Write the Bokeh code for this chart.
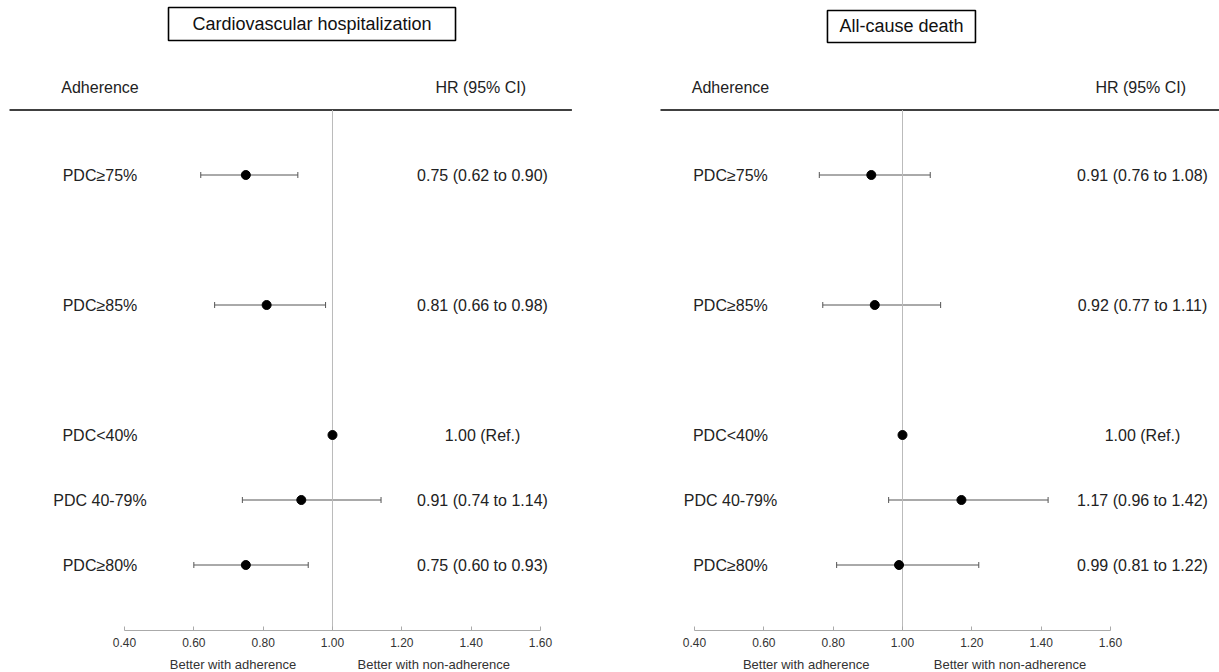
from bokeh.plotting import figure
from bokeh.layouts import row
from bokeh.models import (Range1d, LinearAxis, FixedTicker, PrintfTickFormatter,
                          ColumnDataSource, Whisker, TeeHead)
from bokeh.core.properties import value
from bokeh.embed import file_html
from bokeh.resources import INLINE

# ---------------- data ----------------
groups = ["PDC≥75%", "PDC≥85%", "PDC<40%", "PDC 40-79%", "PDC≥80%"]
row_pos = [6, 4, 2, 1, 0]

cv_title = "Cardiovascular hospitalization"
cv_hr = [0.75, 0.81, 1.00, 0.91, 0.75]
cv_lo = [0.62, 0.66, None, 0.74, 0.60]
cv_hi = [0.90, 0.98, None, 1.14, 0.93]

death_title = "All-cause death"
death_hr = [0.91, 0.92, 1.00, 1.17, 0.99]
death_lo = [0.76, 0.77, None, 0.96, 0.81]
death_hi = [1.08, 1.11, None, 1.42, 1.22]

x_ticks = [0.40, 0.60, 0.80, 1.00, 1.20, 1.40, 1.60]
ref_value = 1.00
col_header_left = "Adherence"
col_header_right = "HR (95% CI)"
favours = ["Better with adherence", "Better with non-adherence"]

FONT = value("Liberation Sans")
H = 672
Y_RANGE = (-1.6538, 8.6846)


def hr_text(h, l, u):
    if l is None:
        return f"{h:.2f} (Ref.)"
    return f"{h:.2f} ({l:.2f} to {u:.2f})"


def panel(title, hr, lo, hi, width, xr, label_x, hr_x, rule_x, box, fav_x):
    p = figure(width=width, height=H, output_backend="svg", toolbar_location=None,
               x_range=Range1d(*xr), y_range=Range1d(*Y_RANGE),
               x_axis_type=None, y_axis_type=None, min_border=0)
    p.outline_line_color = None
    p.xgrid.grid_line_color = None
    p.ygrid.grid_line_color = None
    p.background_fill_color = "white"
    p.border_fill_color = "white"

    # title box
    bx, by, bw, bh = box
    p.rect(x=[bx], y=[by], width=[bw], height=[bh], fill_color="white",
           line_color="black", line_width=1.6)
    p.text(x=[bx], y=[by], text=[title], text_font=FONT, text_font_size="18px",
           text_align="center", text_baseline="middle", text_color="#111111")

    # column headers + rule
    p.text(x=[label_x], y=[7.35], text=[col_header_left], text_font=FONT,
           text_font_size="16px", text_align="center", text_baseline="middle",
           text_color="#222222")
    p.text(x=[hr_x - 0.005], y=[7.35], text=[col_header_right], text_font=FONT,
           text_font_size="16px", text_align="center", text_baseline="middle",
           text_color="#222222")
    p.segment(x0=[rule_x[0]], y0=[7], x1=[rule_x[1]], y1=[7],
              line_color="black", line_width=1.5)

    # reference line
    p.segment(x0=[ref_value], y0=[7], x1=[ref_value], y1=[-1],
              line_color="#bbbbbb", line_width=1)

    # CI whiskers
    ci_rows = [i for i in range(len(hr)) if lo[i] is not None]
    ci_src = ColumnDataSource(dict(y=[row_pos[i] for i in ci_rows],
                                   lo=[lo[i] for i in ci_rows],
                                   hi=[hi[i] for i in ci_rows]))
    w = Whisker(source=ci_src, base="y", lower="lo", upper="hi", dimension="width",
                line_color="#555555", line_width=1,
                lower_head=TeeHead(size=6, line_color="#555555", line_width=1),
                upper_head=TeeHead(size=6, line_color="#555555", line_width=1))
    p.add_layout(w)

    src = ColumnDataSource(dict(y=row_pos, hr=hr, group=groups,
                                lab=[label_x] * len(hr), hrx=[hr_x] * len(hr),
                                txt=[hr_text(h, l, u) for h, l, u in zip(hr, lo, hi)]))
    p.scatter(x="hr", y="y", source=src, size=9, color="black")
    p.text(x="lab", y="y", text="group", source=src, text_font=FONT,
           text_font_size="16px", text_align="center", text_baseline="middle",
           text_color="#222222")
    p.text(x="hrx", y="y", text="txt", source=src, text_font=FONT,
           text_font_size="16px", text_align="center", text_baseline="middle",
           text_color="#222222")

    # x axis
    ax = LinearAxis(fixed_location=-1.0, bounds=(x_ticks[0], x_ticks[-1]),
                    ticker=FixedTicker(ticks=x_ticks),
                    formatter=PrintfTickFormatter(format="%.2f"))
    ax.axis_line_color = "#aaaaaa"
    ax.major_tick_line_color = "#aaaaaa"
    ax.major_tick_in = 4
    ax.major_tick_out = 0
    ax.minor_tick_line_color = None
    ax.major_label_text_font = "Liberation Sans"
    ax.major_label_text_font_size = "12px"
    ax.major_label_text_color = "#333333"
    ax.major_label_standoff = 8
    p.add_layout(ax, "below")

    p.text(x=fav_x, y=[-1.531, -1.531], text=favours, text_font=FONT,
           text_font_size="13px", text_align="center", text_baseline="middle",
           text_color="#333333")
    return p


left = panel(cv_title, cv_hr, cv_lo, cv_hi, 608, (0.04231, 1.79616),
             label_x=0.3293, hr_x=1.4327, rule_x=(0.0683, 1.6906),
             box=(0.9409, 8.323, 0.8279, 0.508), fav_x=[0.713, 1.292])
right = panel(death_title, death_hr, death_lo, death_hi, 611, (0.15192, 1.91442),
              label_x=0.5038, hr_x=1.6923, rule_x=(0.3019, 1.9144),
              box=(0.997, 8.285, 0.4269, 0.492), fav_x=[0.722, 1.31])

layout = row(left, right)
open("out.html", "w").write(file_html(layout, INLINE))
